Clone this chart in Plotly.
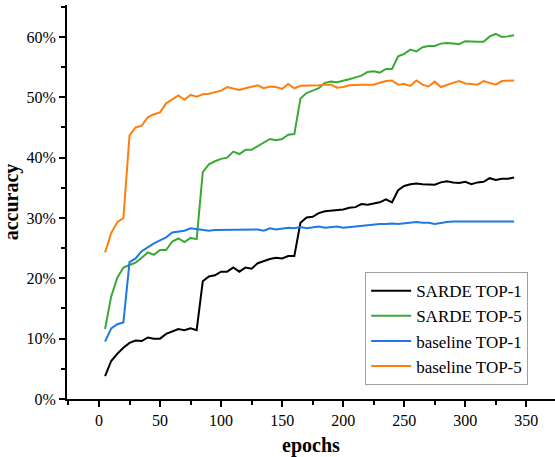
import plotly.graph_objects as go

epochs = list(range(5, 345, 5))

sarde_top1 = [3.8, 6.3, 7.5, 8.5, 9.3, 9.7, 9.6, 10.2, 10.0, 10.0,
              10.8, 11.2, 11.6, 11.4, 11.7, 11.4, 19.5, 20.3, 20.5, 21.1,
              21.1, 21.8, 21.1, 21.8, 21.6, 22.5, 22.9, 23.2, 23.4, 23.3,
              23.7, 23.7, 29.2, 30.1, 30.2, 30.8, 31.1, 31.2, 31.3, 31.4,
              31.7, 31.8, 32.3, 32.2, 32.4, 32.6, 33.1, 32.6, 34.6, 35.3,
              35.6, 35.7, 35.6, 35.5, 35.5, 35.9, 36.1, 35.9, 35.8, 36.0,
              35.6, 35.9, 36.0, 36.6, 36.3, 36.5, 36.5, 36.7]

sarde_top5 = [11.6, 17.0, 20.1, 21.8, 22.2, 22.6, 23.4, 24.3, 23.9, 24.7,
              24.7, 26.1, 26.6, 26.0, 26.7, 26.5, 37.6, 38.9, 39.4, 39.8,
              40.0, 41.0, 40.6, 41.3, 41.3, 41.9, 42.6, 43.1, 42.9, 43.1,
              43.8, 43.9, 49.8, 50.7, 51.1, 51.5, 52.4, 52.6, 52.5, 52.7,
              53.0, 53.3, 53.6, 54.2, 54.3, 54.1, 54.7, 54.7, 56.8, 57.2,
              57.9, 57.6, 58.3, 58.5, 58.5, 58.9, 59.0, 58.9, 58.8, 59.3,
              59.2, 59.2, 59.2, 60.1, 60.5, 60.0, 60.1, 60.3]

baseline_top1 = [9.5, 11.7, 12.4, 12.7, 22.7, 23.3, 24.5, 25.2, 25.8, 26.3,
                 26.8, 27.6, 27.7, 27.9, 28.3, 28.2, 28.0, 27.9, 28.0, 28.0,
                 28.1, 28.1, 28.0, 28.1, 28.0, 28.1, 27.9, 28.3, 28.1, 28.2,
                 28.4, 28.3, 28.5, 28.3, 28.5, 28.6, 28.4, 28.5, 28.6, 28.4,
                 28.5, 28.7, 28.8, 28.9, 28.9, 29.0, 29.0, 29.1, 29.0, 29.1,
                 29.2, 29.35, 29.2, 29.2, 29.0, 29.2, 29.35, 29.4, 29.4, 29.35,
                 29.4, 29.4, 29.4, 29.4, 29.45, 29.4, 29.4, 29.4]

baseline_top5 = [24.3, 27.5, 29.3, 30.0, 43.7, 45.0, 45.3, 46.7, 47.2, 47.5,
                 49.0, 49.7, 50.3, 49.6, 50.4, 50.1, 50.5, 50.6, 50.9, 51.1,
                 51.7, 51.4, 51.2, 51.5, 51.7, 52.0, 51.5, 51.8, 51.7, 51.4,
                 52.2, 51.5, 51.9, 51.9, 51.9, 52.0, 52.1, 52.1, 51.6, 51.7,
                 52.0, 52.1, 52.1, 52.1, 52.1, 52.4, 52.7, 52.8, 52.1, 52.2,
                 51.9, 52.8, 52.1, 51.8, 52.6, 51.7, 52.1, 52.4, 52.7, 52.3,
                 52.2, 52.1, 52.7, 52.4, 52.1, 52.7, 52.7, 52.8]

series_names = ["SARDE TOP-1", "SARDE TOP-5", "baseline TOP-1", "baseline TOP-5"]
series_values = [sarde_top1, sarde_top5, baseline_top1, baseline_top5]
colors = ["#000000", "#3aa935", "#1f78e3", "#ff7f0e"]

fig = go.Figure()
for name, vals, c in zip(series_names, series_values, colors):
    fig.add_trace(go.Scatter(
        x=epochs, y=[v / 100 for v in vals], mode="lines", name=name,
        line=dict(color=c, width=2)))

serif = "Liberation Serif"
fig.update_layout(
    width=555, height=457,
    margin=dict(l=67, r=0, t=5, b=58),
    plot_bgcolor="white", paper_bgcolor="white",
    font=dict(family=serif, color="black", size=14),
    legend=dict(x=0.611, y=0.322, xanchor="left", yanchor="top",
                bordercolor="#a0a0a0", borderwidth=1, bgcolor="white",
                font=dict(family=serif, size=17, color="black"),
                tracegroupgap=0, itemwidth=40),
    showlegend=True,
)
fig.update_xaxes(
    range=[-26.2, 373.5], tickmode="linear", tick0=0, dtick=50,
    showgrid=False, zeroline=False, showline=True, linecolor="black", linewidth=2,
    ticks="outside", ticklen=6, tickwidth=2, tickcolor="black",
    minor=dict(dtick=25, tick0=0, ticks="outside", ticklen=4, tickwidth=1.5, tickcolor="black", showgrid=False),
    tickfont=dict(family=serif, size=16, color="black"),
    title=dict(text="<b>epochs</b>", font=dict(family=serif, size=20, color="black"), standoff=12),
)
fig.update_yaxes(
    range=[0, 0.653], tickmode="linear", tick0=0, dtick=0.1, tickformat=".0%",
    showgrid=False, zeroline=False, showline=True, linecolor="black", linewidth=2,
    ticks="outside", ticklen=6, tickwidth=2, tickcolor="black",
    minor=dict(dtick=0.05, tick0=0, ticks="outside", ticklen=4, tickwidth=1.5, tickcolor="black", showgrid=False),
    tickfont=dict(family=serif, size=16, color="black"),
    title=dict(text="<b>accuracy</b>", font=dict(family=serif, size=20, color="black"), standoff=3),
)

fig.write_html("out.html", config={"displayModeBar": False},
               post_script="document.body.style.margin='0';")
